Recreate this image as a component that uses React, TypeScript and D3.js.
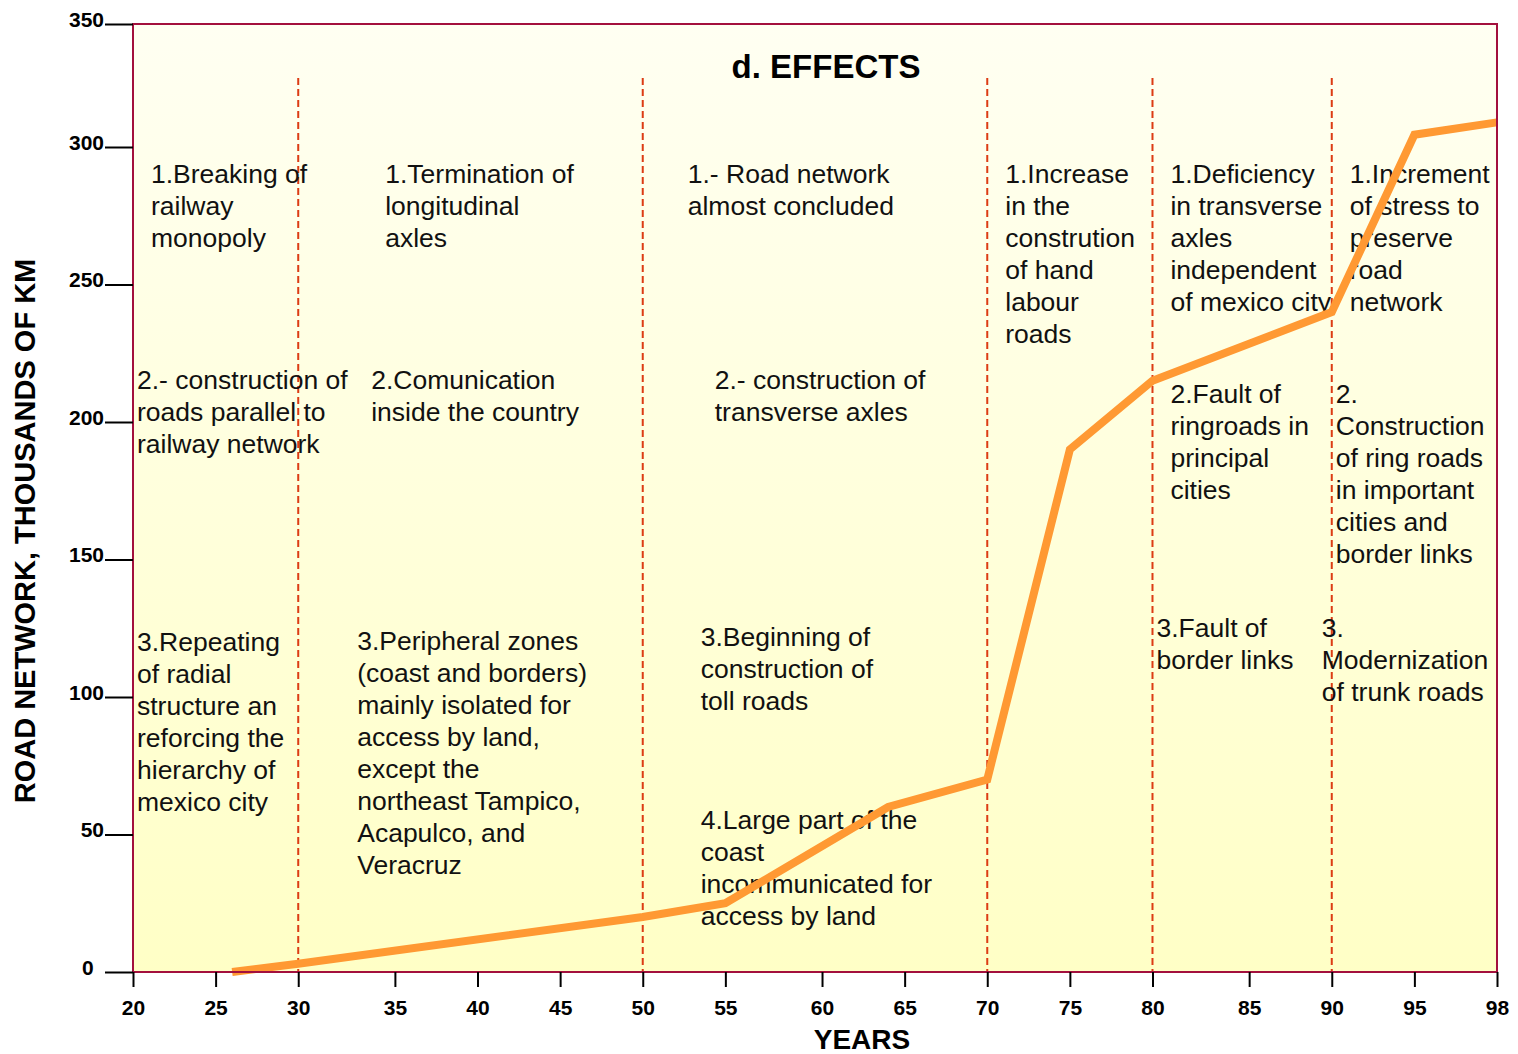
import React, { useEffect, useRef } from "react";
import { select, scaleLinear, axisBottom, axisLeft, line } from "d3";

// years on the axis (the category spacing of the original is not uniform)
const yearTicks = [20, 25, 30, 35, 40, 45, 50, 55, 60, 65, 70, 75, 80, 85, 90, 95, 98];
const wideGapsFrom = [30, 55, 80];
const kmTicks = [0, 50, 100, 150, 200, 250, 300, 350];

// road network, thousands of km
const years = [26, 30, 50, 55, 64, 70, 75, 80, 90, 95, 98];
const roadKm = [0, 3, 20, 25, 60, 70, 190, 215, 240, 305, 310];

const periodBreaks = [30, 50, 70, 80, 90];

// notes: period start, offset from that period line, first baseline, lines
const notes = [
  { from: 20, dx: 18, y: 183, lines: ["1.Breaking of", "railway", "monopoly"] },
  { from: 20, dx: 4, y: 389, lines: ["2.- construction of", "roads parallel to", "railway network"] },
  { from: 20, dx: 4, y: 651, lines: ["3.Repeating", "of radial", "structure an", "reforcing the", "hierarchy of", "mexico city"] },
  { from: 30, dx: 87, y: 183, lines: ["1.Termination of", "longitudinal", "axles"] },
  { from: 30, dx: 73, y: 389, lines: ["2.Comunication", "inside the country"] },
  { from: 30, dx: 59, y: 650, lines: ["3.Peripheral zones", "(coast and borders)", "mainly isolated for", "access by land,", "except the", "northeast Tampico,", "Acapulco, and", "Veracruz"] },
  { from: 50, dx: 45, y: 183, lines: ["1.- Road network", "almost concluded"] },
  { from: 50, dx: 72, y: 389, lines: ["2.- construction of", "transverse axles"] },
  { from: 50, dx: 58, y: 646, lines: ["3.Beginning of", "construction of", "toll roads"] },
  { from: 50, dx: 58, y: 829, lines: ["4.Large part of the", "coast", "incommunicated for", "access by land"] },
  { from: 70, dx: 18, y: 183, lines: ["1.Increase", "in the", "constrution", "of hand", "labour", "roads"] },
  { from: 80, dx: 18, y: 183, lines: ["1.Deficiency", "in transverse", "axles", "independent", "of mexico city"] },
  { from: 80, dx: 18, y: 403, lines: ["2.Fault of", "ringroads in", "principal", "cities"] },
  { from: 80, dx: 4, y: 637, lines: ["3.Fault of", "border links"] },
  { from: 90, dx: 18, y: 183, lines: ["1.Increment", "of stress to", "preserve", "road", "network"] },
  { from: 90, dx: 4, y: 403, lines: ["2.", "Construction", "of ring roads", "in important", "cities and", "border links"] },
  { from: 90, dx: -10, y: 637, lines: ["3.", "Modernization", "of trunk roads"] },
];

const W = 1518;
const H = 1054;
const left = 133;
const right = 1497;
const top = 24;
const bottom = 972;
const font = "'Liberation Sans', Arial, Helvetica, sans-serif";

const App = () => {
  const svgRef = useRef(null);

  useEffect(() => {
    const svg = select(svgRef.current);

    // x: piecewise scale over the tick years, wider gaps where the original has them
    const weights = yearTicks.slice(1).map((_, i) => (wideGapsFrom.includes(yearTicks[i]) ? 1.17 : 1));
    const total = weights.reduce((a, b) => a + b, 0);
    const xRange = [left];
    weights.forEach((w) => xRange.push(xRange[xRange.length - 1] + (w / total) * (right - left)));
    const xScale = scaleLinear().domain(yearTicks).range(xRange);

    // y: the last interval (300-350) is squeezed in the original
    const yScale = scaleLinear().domain([0, 300, 350]).range([bottom, 147, top]);

    // period separators
    svg.select(".periods")
      .selectAll("line")
      .data(periodBreaks)
      .join("line")
      .attr("x1", (d) => xScale(d))
      .attr("x2", (d) => xScale(d))
      .attr("y1", 78)
      .attr("y2", bottom)
      .attr("stroke", "#dc3c14")
      .attr("stroke-width", 2)
      .attr("stroke-dasharray", "7 4");

    // notes
    svg.select(".notes")
      .selectAll("text")
      .data(notes)
      .join("text")
      .attr("x", (d) => xScale(d.from) + d.dx)
      .attr("y", (d) => d.y)
      .attr("font-size", 26.5)
      .attr("font-family", font)
      .attr("fill", "#111")
      .selectAll("tspan")
      .data((d) => d.lines.map((t, i) => ({ t, i, x: xScale(d.from) + d.dx })))
      .join("tspan")
      .attr("x", (d) => d.x)
      .attr("dy", (d) => (d.i === 0 ? 0 : 32))
      .text((d) => d.t);

    // road network line
    const pts = years.map((y, i) => [y, roadKm[i]]);
    const lineGen = line().x((d) => xScale(d[0])).y((d) => yScale(d[1]));
    svg.select(".series")
      .selectAll("path")
      .data([pts])
      .join("path")
      .attr("d", lineGen)
      .attr("fill", "none")
      .attr("stroke", "#ff9933")
      .attr("stroke-width", 8)
      .attr("stroke-linejoin", "miter");

    // axes
    const yAxis = axisLeft(yScale).tickValues(kmTicks).tickSize(28).tickPadding(1);
    const xAxis = axisBottom(xScale).tickValues(yearTicks).tickSize(15).tickPadding(13).tickFormat((d) => String(d));

    const gy = svg.select(".y-axis").attr("transform", `translate(${left},0)`).call(yAxis);
    gy.select(".domain").remove();
    gy.selectAll(".tick line").attr("stroke", "#000").attr("stroke-width", 2);
    gy.selectAll(".tick text")
      .attr("dy", "0.1em")
      .attr("font-size", 21)
      .attr("font-weight", "bold")
      .attr("font-family", font)
      .attr("fill", "#000");
    // the zero label sits left-aligned with the two-digit labels
    gy.selectAll(".tick text")
      .filter((d) => d === 0)
      .attr("text-anchor", "start")
      .attr("x", -51);

    const gx = svg.select(".x-axis").attr("transform", `translate(0,${bottom})`).call(xAxis);
    gx.select(".domain").remove();
    gx.selectAll(".tick line").attr("stroke", "#000").attr("stroke-width", 2);
    gx.selectAll(".tick text")
      .attr("font-size", 21)
      .attr("font-weight", "bold")
      .attr("font-family", font)
      .attr("fill", "#000");
  }, []);

  return (
    <svg
      ref={svgRef}
      width={W}
      height={H}
      style={{ position: "absolute", left: 0, top: 0, background: "#fff" }}
    >
      <defs>
        <linearGradient id="plotBg" x1="0" y1="0" x2="0" y2="1">
          <stop offset="0%" stopColor="#fffff2" />
          <stop offset="100%" stopColor="#ffffc6" />
        </linearGradient>
      </defs>
      <rect x={left} y={top} width={right - left} height={bottom - top} fill="url(#plotBg)" />
      <g className="periods"></g>
      <g className="notes"></g>
      <g className="series"></g>
      <rect
        x={left}
        y={top}
        width={right - left}
        height={bottom - top}
        fill="none"
        stroke="#a3103d"
        strokeWidth={2}
      />
      <g className="x-axis"></g>
      <g className="y-axis"></g>
      <text x={826} y={78} textAnchor="middle" fontSize={33} fontWeight="bold" fontFamily={font}>
        d. EFFECTS
      </text>
      <text x={862} y={1049} textAnchor="middle" fontSize={28} fontWeight="bold" fontFamily={font}>
        YEARS
      </text>
      <text
        transform="translate(35,531) rotate(-90)"
        textAnchor="middle"
        fontSize={29}
        fontWeight="bold"
        fontFamily={font}
      >
        ROAD NETWORK, THOUSANDS OF KM
      </text>
    </svg>
  );
};

export default App;
